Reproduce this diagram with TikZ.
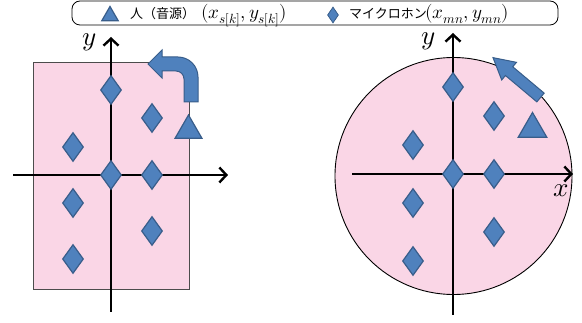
\documentclass[tikz,border=0pt]{standalone}
\usepackage{fontspec}
\usepackage{unicode-math}
\setmathfont{Latin Modern Math}
\newfontfamily\jpfont{Noto Sans CJK JP}
\usetikzlibrary{arrows.meta,shapes.geometric}
\definecolor{micblue}{RGB}{79,129,189}
\definecolor{micedge}{RGB}{56,93,138}
\definecolor{roompink}{RGB}{250,214,230}
\tikzset{
  mic/.style={diamond, fill=micblue, draw=micedge, line width=1.2pt,
    minimum width=21pt, minimum height=29pt, inner sep=0pt},
  source/.style={regular polygon, regular polygon sides=3, fill=micblue,
    draw=micedge, line width=1.2pt, inner sep=0pt},
  axis/.style={line width=2.4pt, -{Straight Barb[length=7pt,width=15pt]}},
  moveshape/.style={fill=micblue, draw=micedge, line width=1pt},
  legendtext/.style={anchor=base west, inner sep=0pt, font=\fontsize{13}{15}\selectfont},
  legendmath/.style={anchor=base west, inner sep=0pt, font=\fontsize{19}{21}\selectfont},
  axislabel/.style={inner sep=0pt, font=\fontsize{27}{30}\selectfont},
}
\begin{document}
\begin{tikzpicture}[x=1pt,y=-1pt]
\useasboundingbox (0,0) rectangle (582,323);
% legend
\draw[rounded corners=8pt, line width=0.8pt] (72,1) rectangle (558,25);
\node[source, minimum size=19pt] (lsrc) at (110,16) {};
\node[legendtext] (lsrctext) at (130,19) {\jpfont 人（音源）};
\node[legendmath] (lsrcmath) at (201,19) {$(x_{s[k]},y_{s[k]})$};
\node[mic, minimum width=11pt, minimum height=16pt, line width=0.8pt] (lmic) at (333,15) {};
\node[legendtext] (lmictext) at (349,19) {\jpfont マイクロホン};
\node[legendmath] (lmicmath) at (425,19) {$(x_{mn},y_{mn})$};

% left room
\fill[roompink] (33,62) rectangle (189,289);
\draw[line width=0.6pt, black!70] (33,62) rectangle (189,289);
\coordinate (ao) at (111,175);
\coordinate (ab) at (111,312);
\coordinate (at) at (111,37);
\coordinate (al) at (13,175);
\coordinate (ar) at (228,175);
\draw[axis] (ab) -- (at);
\draw[axis] (al) -- (ar);
\node[axislabel] (aly) at (89,42) {$y$};
\node[mic] (a1) at (111,90) {};
\node[mic] (a2) at (152,118) {};
\node[mic] (a3) at (73,147) {};
\node[mic] (a4) at (111,175) {};
\node[mic] (a5) at (152,175) {};
\node[mic] (a6) at (73,203) {};
\node[mic] (a7) at (152,231) {};
\node[mic] (a8) at (73,259) {};
\node[source, minimum size=31pt] (asrc) at (188.5,130.5) {};
\draw[moveshape] (184,102) -- (198,102) [rounded corners=20pt] -- (198,57)
  [sharp corners] -- (162,57) -- (162,50) -- (148,64) -- (162,78) -- (162,71)
  [rounded corners=8pt] -- (184,71) [sharp corners] -- (184,102) -- cycle;

% right room
\draw[fill=roompink, line width=0.9pt] (453.5,176) circle (118.5);
\coordinate (bo) at (453,174);
\coordinate (bb) at (453,315);
\coordinate (bt) at (453,33);
\coordinate (bl) at (352,174);
\coordinate (br) at (573,174);
\draw[axis] (bb) -- (bt);
\draw[axis] (bl) -- (br);
\node[axislabel] (bly) at (428,41) {$y$};
\node[axislabel] (blx) at (561,191) {$x$};
\node[mic] (b1) at (453,87) {};
\node[mic] (b2) at (494,116) {};
\node[mic] (b3) at (413,145) {};
\node[mic] (b4) at (453,174) {};
\node[mic] (b5) at (494,174) {};
\node[mic] (b6) at (413,203) {};
\node[mic] (b7) at (494,232) {};
\node[mic] (b8) at (413,261) {};
\node[source, minimum size=33pt] (bsrc) at (532.5,129) {};
\begin{scope}[shift={(540.5,97.5)}, rotate=140]
  \draw[moveshape] (0,-5.7) -- (41,-5.7) -- (41,-11.5) -- (62,0) -- (41,11.5)
    -- (41,5.7) -- (0,5.7) -- cycle;
\end{scope}
\end{tikzpicture}
\end{document}
